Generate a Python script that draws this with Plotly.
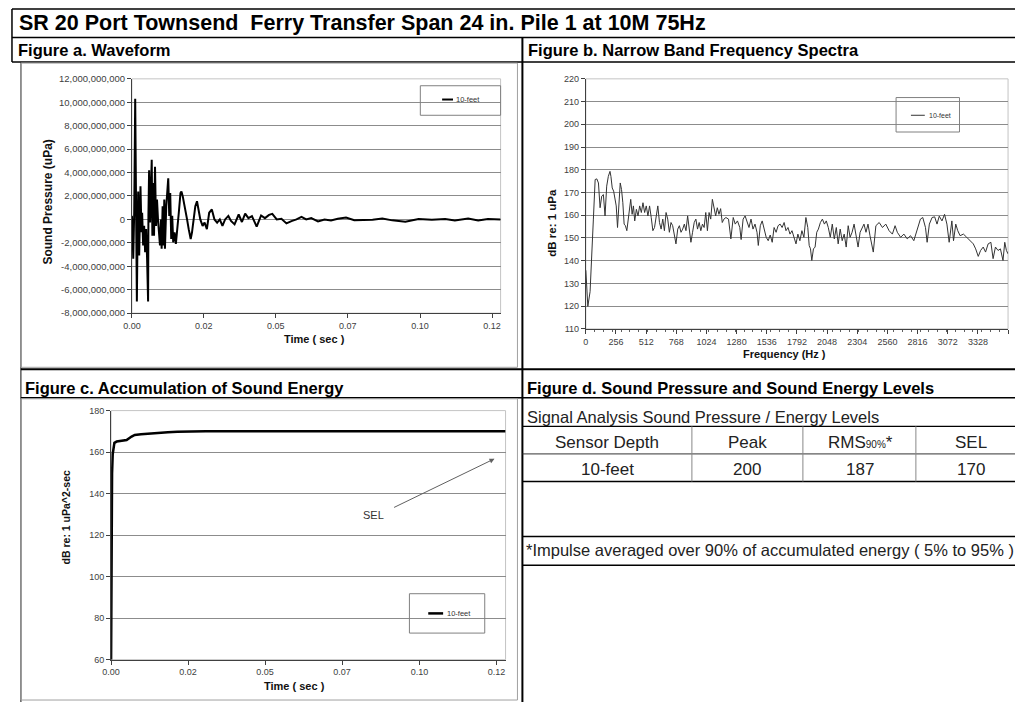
import plotly.graph_objects as go

W, H = 1015, 707
FONT = "Liberation Sans, Arial, sans-serif"

# ---------------- data ----------------
title_text = "SR 20 Port Townsend  Ferry Transfer Span 24 in. Pile 1 at 10M 75Hz"
series_name = "10-feet"

# Figure a: waveform, time in ms, pressure in 1e9 uPa
wave_t_ms = [0.0, 0.22, 0.45, 0.78, 1.12, 1.34, 1.68, 1.9, 2.13, 2.47, 2.91, 3.25, 3.47, 3.81,
             4.15, 4.48, 4.82, 5.15, 5.49, 5.6, 5.83, 6.16, 6.72, 6.94, 7.28, 7.5, 7.84, 8.18,
             8.51, 8.85, 9.19, 9.52, 9.86, 10.08, 10.42, 10.64, 10.98, 11.2, 11.65, 12.1, 12.32,
             12.66, 12.99, 13.33, 13.67, 14.0, 14.45, 14.9, 15.34, 15.9, 16.47, 16.8, 17.24,
             17.7, 18.15, 18.7, 19.26, 19.93, 20.38, 20.94, 21.5, 22.07, 22.63, 23.19, 23.97,
             24.64, 25.42, 26.2, 27.1, 27.99, 28.9, 29.8, 30.7, 31.6, 32.7, 33.6, 34.8, 36.2,
             37.3, 38.4, 39.5, 40.7, 42.3, 43.8, 45.1, 46.5, 47.6, 49.1, 50.7, 52.4, 54.1, 55.8,
             57.5, 59.1, 60.8, 63.1, 65.3, 67.5, 69.8, 72.6, 75.4, 78.7, 81.6, 84.9, 88.3, 92.7,
             97.2, 101.7, 106.2, 109.5, 114.0, 117.4, 120.7, 125.0]
wave_p_e9 = [0.3, -0.83, -3.35, 0.57, 10.3, 1.13, -7.0, -1.67, 2.39, -3.07, 2.82, -1.1, 0.57, -2.23,
             -0.55, -2.79, -0.83, -3.35, -7.0, 0.3, 4.2, -0.27, 5.1, -1.39, 3.1, -1.39, 4.5, -0.55,
             1.69, 0.0, -1.67, -2.23, 0.0, -2.51, 1.13, -2.23, 1.69, -2.51, 1.13, 3.1, 3.51,
             0.3, 2.25, -1.67, 0.3, -1.95, -1.1, -2.09, -1.1, 0.57, 2.25, 2.39, 1.97,
             1.41, 0.57, 0.0, -0.83, -1.67, -1.1, 0.0, 1.13, 1.55, 0.85, 0.0, -0.55,
             -0.27, -0.83, 0.57, 0.85, 0.0, -0.27, 0.0, -0.55, 0.0, 0.3, -0.13, -0.42, 0.42,
             -0.22, 0.5, 0.11, 0.28, -0.62, 0.34, 0.11, 0.39, 0.48, 0.0, 0.06, -0.34, -0.14, 0.0,
             0.22, 0.0, 0.11, -0.17, 0.0, -0.08, 0.06, 0.17, -0.06, -0.06, -0.03, 0.08, -0.08, -0.2,
             0.03, -0.03, 0.03, -0.08, 0.08, -0.08, 0.03, 0.0]

# Figure b: narrow band spectrum
spec_f_hz = [0, 17, 36, 50, 64, 79, 93, 107, 121, 135, 149, 163, 177, 191, 205, 213, 224, 236, 247,
             258, 269, 280, 292, 303, 314, 325, 336, 348, 359, 370, 381, 393, 404, 415, 429, 443,
             457, 471, 485, 499, 513, 527, 541, 555, 569, 583, 597, 611, 625, 639, 653, 667, 681,
             695, 709, 723, 737, 751, 765, 780, 794, 808, 822, 836, 850, 864, 878, 892, 906, 920,
             934, 948, 962, 976, 990, 1004, 1018, 1032, 1046, 1060, 1074, 1088, 1102, 1116, 1130,
             1144, 1158, 1172, 1189, 1211, 1231, 1251, 1268, 1287, 1307, 1318, 1335, 1352, 1368,
             1385, 1402, 1419, 1436, 1453, 1464, 1481, 1497, 1514, 1531, 1548, 1565, 1582, 1598,
             1615, 1632, 1649, 1666, 1683, 1699, 1716, 1733, 1750, 1767, 1784, 1800, 1817, 1834,
             1851, 1868, 1884, 1896, 1907, 1918, 1932, 1946, 1960, 1974, 1991, 2008, 2025, 2041,
             2058, 2075, 2092, 2109, 2126, 2142, 2159, 2176, 2193, 2210, 2227, 2243, 2260, 2277,
             2294, 2311, 2328, 2344, 2361, 2378, 2395, 2412, 2440, 2462, 2490, 2518, 2546, 2574,
             2602, 2625, 2644, 2672, 2700, 2728, 2756, 2784, 2812, 2840, 2860, 2883, 2897, 2916,
             2939, 2961, 2981, 3000, 3023, 3045, 3065, 3084, 3107, 3121, 3140, 3157, 3177, 3205,
             3233, 3261, 3289, 3309, 3331, 3351, 3373, 3393, 3415, 3438, 3457, 3477, 3499, 3519,
             3541, 3556, 3570, 3584]
spec_db = [135.8, 119.9, 126.4, 139.4, 158.3, 175.7, 176.0, 174.2, 163.3, 168.4, 169.1, 159.7, 172.8,
           177.1, 179.3, 177.1, 172.0, 170.6, 166.2, 164.1, 154.6, 167.0, 174.2, 171.3, 165.5, 156.1,
           155.4, 153.2, 157.5, 162.6, 167.0, 160.4, 164.1, 157.5, 162.6, 159.7, 164.1, 161.2, 165.5,
           161.2, 164.1, 159.7, 164.1, 159.0, 153.2, 154.6, 160.4, 164.1, 156.8, 153.9, 158.3, 153.2,
           161.2, 158.3, 152.5, 156.8, 155.4, 151.7, 147.4, 153.9, 155.4, 152.5, 153.9, 156.1, 153.2,
           159.7, 152.5, 148.1, 152.5, 156.8, 158.3, 153.9, 156.8, 153.2, 156.1, 154.6, 161.2, 153.2,
           161.2, 158.3, 167.0, 162.6, 159.7, 163.3, 160.4, 162.9, 156.8, 158.3, 159.0, 158.3, 149.6,
           159.0, 156.1, 157.5, 154.6, 149.3, 158.3, 159.7, 157.5, 154.6, 158.3, 153.9, 156.1, 152.5,
           146.7, 155.4, 157.5, 153.2, 150.3, 148.8, 151.3, 148.1, 154.6, 152.5, 155.4, 156.1, 154.6,
           156.8, 153.2, 154.6, 151.7, 153.2, 149.6, 147.4, 151.7, 148.8, 153.2, 150.3, 159.0, 154.6,
           146.7, 145.2, 140.1, 145.2, 146.0, 152.5, 153.9, 156.8, 158.3, 156.1, 157.5, 154.6, 150.3,
           156.1, 149.6, 154.6, 147.4, 153.9, 148.8, 151.7, 146.0, 155.4, 150.3, 152.5, 156.1, 151.0,
           146.0, 152.5, 154.6, 156.1, 152.5, 156.1, 151.0, 143.8, 155.4, 156.8, 154.6, 156.1, 153.2,
           151.7, 155.4, 152.5, 150.3, 151.7, 149.6, 151.0, 148.8, 153.2, 158.3, 159.0, 154.6, 148.1,
           156.1, 159.0, 159.3, 156.1, 159.6, 157.5, 160.4, 156.1, 148.1, 157.5, 148.8, 156.1, 153.2,
           151.0, 151.7, 150.3, 148.8, 147.4, 145.2, 141.9, 144.5, 146.0, 143.8, 147.4, 148.1, 140.9,
           146.0, 144.5, 145.2, 140.1, 148.1, 144.5, 143.0]

# Figure c: accumulated sound energy
sel_t_ms = [0.0, 0.05, 0.15, 0.31, 0.52, 0.84, 1.05, 1.78, 3.35, 4.92, 6.5, 7.5, 9.5, 11.7, 14.5,
            18.0, 21.0, 24.3, 30.0, 125.0]
sel_db = [60.0, 110.0, 129.0, 149.6, 159.1, 163.0, 164.5, 165.1, 165.5, 165.8, 167.5, 168.3, 168.6,
          168.9, 169.3, 169.6, 169.8, 169.9, 170.0, 170.0]

# axis tick labels
time_tickvals = [0.0, 0.0244, 0.0488, 0.0732, 0.0977, 0.1221]
time_ticktext = ["0.00", "0.02", "0.05", "0.07", "0.10", "0.12"]
wave_tickvals = [-8e9, -6e9, -4e9, -2e9, 0, 2e9, 4e9, 6e9, 8e9, 10e9, 12e9]
wave_ticktext = ["-8,000,000,000", "-6,000,000,000", "-4,000,000,000", "-2,000,000,000", "0",
                 "2,000,000,000", "4,000,000,000", "6,000,000,000", "8,000,000,000",
                 "10,000,000,000", "12,000,000,000"]
freq_tickvals = [0, 256, 512, 768, 1024, 1280, 1536, 1792, 2048, 2304, 2560, 2816, 3072, 3328, 3584]

# Figure d: table
table_title = "Signal Analysis Sound Pressure / Energy Levels"
table_header = ["Sensor Depth", "Peak", "RMS<span style='font-size:10px'>90%</span>*", "SEL"]
table_row = ["10-feet", "200", "187", "170"]
footnote = "*Impulse averaged over 90% of accumulated energy ( 5% to 95% )"


# ---------------- helpers (pixel -> paper) ----------------
def X(px):
    return px / W


def Y(py):
    return 1 - py / H


shapes = []
annotations = []


def line(x0, y0, x1, y1, color="black", width=1, dash=None):
    d = dict(color=color, width=width)
    if dash:
        d["dash"] = dash
    shapes.append(dict(type="line", xref="paper", yref="paper", x0=X(x0), y0=Y(y0),
                       x1=X(x1), y1=Y(y1), line=d, layer="above"))


def rect(x0, y0, x1, y1, color="#808080", width=1, fill=None):
    shapes.append(dict(type="rect", xref="paper", yref="paper", x0=X(x0), y0=Y(y0),
                       x1=X(x1), y1=Y(y1), line=dict(color=color, width=width),
                       fillcolor=fill if fill else "rgba(0,0,0,0)", layer="above"))


def text(s, px, py, size=12, color="#111", anchor="left", bold=False, angle=0):
    annotations.append(dict(text=("<b>%s</b>" % s) if bold else s, x=X(px), y=Y(py),
                            xref="paper", yref="paper", showarrow=False, xanchor=anchor,
                            yanchor="middle", textangle=angle,
                            font=dict(family=FONT, size=size, color=color)))


# ---------------- traces ----------------
fig = go.Figure()
fig.add_trace(go.Scatter(x=[t / 1000 for t in wave_t_ms], y=[p * 1e9 for p in wave_p_e9],
                         mode="lines", line=dict(color="black", width=2), name=series_name,
                         xaxis="x", yaxis="y", showlegend=False))
fig.add_trace(go.Scatter(x=spec_f_hz, y=spec_db, mode="lines",
                         line=dict(color="#333333", width=1), name=series_name,
                         xaxis="x2", yaxis="y2", showlegend=False))
fig.add_trace(go.Scatter(x=[t / 1000 for t in sel_t_ms], y=sel_db, mode="lines",
                         line=dict(color="black", width=2.5), name=series_name,
                         xaxis="x3", yaxis="y3", showlegend=False))

tickfont = dict(family=FONT, size=9, color="#404040")
ax_common = dict(ticks="outside", ticklen=4, tickcolor="#404040", showline=True,
                 linecolor="#404040", linewidth=1, zeroline=False)
grid = dict(showgrid=True, gridcolor="#8c8c8c", gridwidth=1)

# ---------------- frame / borders ----------------
line(3, 3, 1015, 3, width=1.5)
line(3, 3, 3, 57, width=1.5)
line(3, 32, 1015, 32, width=1.5)
line(3, 57, 1015, 57, width=1.5)
line(12, 57, 12, 707, color="#333", width=1.2)
line(518, 32, 518, 707, width=2)
line(12, 369, 1015, 369, width=2)
line(12, 398, 1015, 398, width=1.5)
rect(12, 58, 513, 367, color="#a0a0a0")
rect(12, 399, 513, 705, color="#a0a0a0")

# plot-area borders
for xr, yr in (("x", "y"), ("x2", "y2"), ("x3", "y3")):
    shapes.append(dict(type="rect", xref=xr + " domain", yref=yr + " domain", x0=0, x1=1, y0=0,
                       y1=1, line=dict(color="#c4c4c4", width=1), layer="below"))

# headings
text(title_text, 8, 17, size=21.5, color="#000", bold=True)
text("Figure a. Waveform", 7, 45, size=16.5, color="#000", bold=True)
text("Figure b. Narrow Band Frequency Spectra", 522, 45, size=16.5, color="#000", bold=True)
text("Figure c. Accumulation of Sound Energy", 14, 388, size=16.5, color="#000", bold=True)
text("Figure d. Sound Pressure and Sound Energy Levels", 521, 388, size=16.5, color="#000", bold=True)

# axis titles
text("Sound Pressure (uPa)", 39, 199, size=12, color="#111", anchor="center", bold=True, angle=-90)
text("Time ( sec )", 308, 338, size=11, color="#111", anchor="center", bold=True)
text("dB re: 1 uPa", 547, 220, size=11.5, color="#111", anchor="center", bold=True, angle=-90)
text("Frequency (Hz )", 782, 354, size=11, color="#111", anchor="center", bold=True)
text("dB re: 1 uPa^2-sec", 57, 519, size=10.5, color="#111", anchor="center", bold=True, angle=-90)
text("Time ( sec )", 288, 691, size=11, color="#111", anchor="center", bold=True)

# legends (boxes)
rect(415, 81, 496, 111)
line(437, 95, 448, 95, color="black", width=2)
text(series_name, 449, 95, size=7.5, color="#333")
rect(895, 93, 959, 128)
line(910, 111, 924, 111, color="#333", width=1)
text(series_name, 926, 111, size=7, color="#333")
rect(404, 597, 480, 637)
line(423, 617, 438, 617, color="black", width=2.5)
text(series_name, 440, 617, size=7.5, color="#333")

# SEL arrow
annotations.append(dict(x=0.1215, y=156.8, xref="x3", yref="y3", ax=0.0892, ay=133,
                        axref="x3", ayref="y3", text="", showarrow=True, arrowhead=2,
                        arrowsize=1, arrowwidth=1, arrowcolor="#606060"))
annotations.append(dict(x=0.0832, y=129.7, xref="x3", yref="y3", text="SEL", showarrow=False,
                        font=dict(family=FONT, size=11, color="#333")))

# table (Figure d)
text(table_title, 521, 417, size=16.5, color="#222")
line(518, 427, 1015, 427, width=1.2)
line(518, 455, 1015, 455, color="#333", width=1)
line(518, 483, 1015, 483, width=1.5)
for cx in (689, 801, 915):
    line(cx, 427, cx, 483, color="#888", width=1)
col_centers = [603.5, 745, 859, 971]
for cx, h in zip(col_centers, table_header):
    text(h, cx, 443, size=17, color="#222", anchor="center")
for cx, v in zip(col_centers, table_row):
    text(v, cx, 471, size=17, color="#222", anchor="center")
line(518, 539, 1015, 539, width=1.5)
text(footnote, 520, 553, size=16.5, color="#222")
line(518, 568, 1015, 568, width=1.5)

fig.update_layout(
    width=W, height=H, autosize=False,
    margin=dict(l=0, r=0, t=0, b=0, pad=0),
    paper_bgcolor="white", plot_bgcolor="white",
    font=dict(family=FONT),
    showlegend=False,
    xaxis=dict(domain=[X(124), X(496)], range=[0, 0.125], tickmode="array",
               tickvals=time_tickvals, ticktext=time_ticktext, anchor="y", showgrid=False,
               tickfont=tickfont, **ax_common),
    yaxis=dict(domain=[Y(312), Y(74)], range=[-8e9, 12e9], tickmode="array",
               tickvals=wave_tickvals, ticktext=wave_ticktext, anchor="x", **grid,
               tickfont=dict(family=FONT, size=9.5, color="#404040"), **ax_common),
    xaxis2=dict(domain=[X(582), X(1008)], range=[0, 3584], tickmode="array",
                tickvals=freq_tickvals, anchor="y2", showgrid=False, tickfont=tickfont,
                minor=dict(ticks="outside", ticklen=2, tickcolor="#606060",
                           tickmode="linear", tick0=0, dtick=3584 / 48, showgrid=False),
                **ax_common),
    yaxis2=dict(domain=[Y(328), Y(74)], range=[110, 220], dtick=10, anchor="x2", **grid,
                tickfont=tickfont, **ax_common),
    xaxis3=dict(domain=[X(103), X(501)], range=[0, 0.125], tickmode="array",
                tickvals=time_tickvals, ticktext=time_ticktext, anchor="y3", showgrid=False,
                tickfont=tickfont, **ax_common),
    yaxis3=dict(domain=[Y(664), Y(411)], range=[60, 180], dtick=20, anchor="x3", **grid,
                tickfont=tickfont, **ax_common),
    shapes=shapes,
    annotations=annotations,
)

fig.write_html("out.html")
